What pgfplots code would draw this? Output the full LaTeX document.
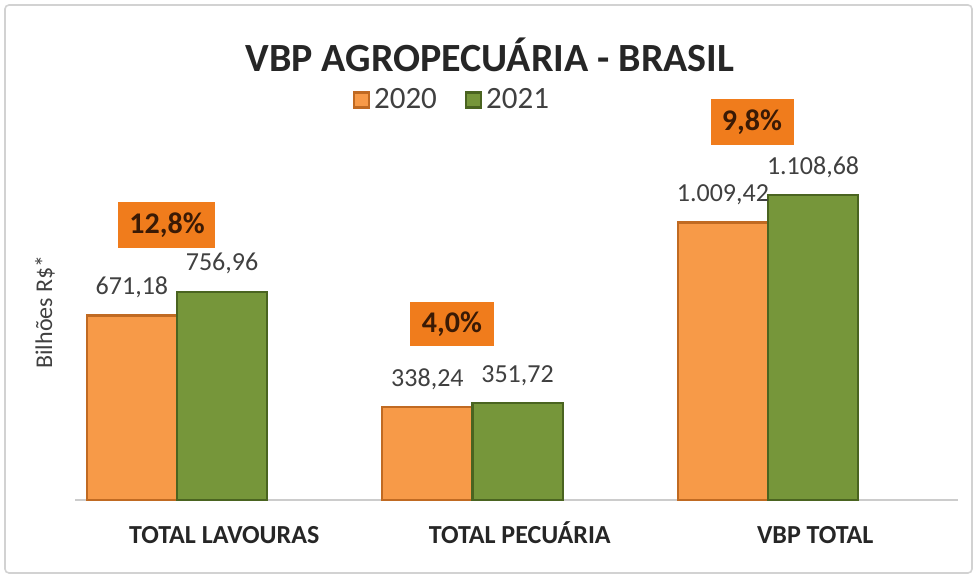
\documentclass[border=0pt]{standalone}
\usepackage{pgfplots}
\pgfplotsset{compat=1.18}
\usepackage{fontspec}
\setmainfont{Carlito}
\definecolor{orbar}{HTML}{F79A48}
\definecolor{orbardk}{HTML}{C06A22}
\definecolor{grbar}{HTML}{76963A}
\definecolor{grbardk}{HTML}{4A6420}
\definecolor{boxor}{HTML}{F07C1C}
\definecolor{boxtxt}{HTML}{3A1A05}
\definecolor{lbl}{HTML}{404040}
\begin{document}
\begin{tikzpicture}
\useasboundingbox (-88.5pt,-41.5pt) rectangle (401.5pt,250pt);
\fill[white] (-88.5pt,-41.5pt) rectangle (401.5pt,250pt);
\draw[gray!35, line width=0.8pt, rounded corners=2pt] (-86pt,-36.5pt) rectangle (397.5pt,247.5pt);
\begin{axis}[
 at={(-50.9775pt,0pt)}, anchor=south west,
 x=147.75pt, y=0.1375pt,
 xmin=-0.345, xmax=2.643, ymin=0, ymax=1454.5,
 clip=false,
 axis x line*=bottom, axis y line=none,
 x axis line style={gray!40, line width=0.8pt, -},
 ytick=\empty,
 xtick={0.16,1.16,2.16},
 xticklabels={TOTAL LAVOURAS, TOTAL PECUÁRIA, VBP TOTAL},
 major tick length=0pt,
 xticklabel style={anchor=base, yshift=-22pt, font=\fontsize{13}{15}\selectfont\bfseries, text=black!85},
 ybar, bar width=0.305,
 nodes near coords,
 every node near coord/.append style={anchor=center, yshift=14pt, font=\fontsize{13}{15}\selectfont, text=lbl},
 legend style={draw=none, fill=none, at={(0.428,1)}, anchor=center, legend columns=2,
   font=\fontsize{15.5}{17}\selectfont, text=black!75,
   /tikz/every even column/.append style={column sep=12pt}},
 legend image code/.code={\fill[#1] (0pt,-3.75pt) rectangle (7.5pt,3.75pt);},
 /pgf/number format/fixed, /pgf/number format/fixed zerofill, /pgf/number format/precision=2,
 /pgf/number format/use comma, /pgf/number format/1000 sep={.}, /pgf/number format/assume math mode=true,
]
\addplot[fill=orbar, draw=orbardk, line width=1.1pt, bar shift=-0.1525] coordinates {(0,671.18) (1,338.24) (2,1009.42)};
\addplot[fill=grbar, draw=grbardk, line width=1.1pt, bar shift=0.1525] coordinates {(0,756.96) (1,351.72) (2,1108.68)};
\legend{2020,2021}
\end{axis}
\node[font=\fontsize{20}{24}\selectfont\bfseries, text=black!85] at (156.5pt,222.5pt) {VBP AGROPECUÁRIA - BRASIL};
\node[rotate=90, font=\fontsize{12}{14}\selectfont, text=lbl] at (-66pt,94pt) {Bilhões R\$*};
\node[fill=boxor, text=boxtxt, font=\fontsize{15}{17}\selectfont\bfseries, minimum width=48.5pt, minimum height=23pt, inner sep=0pt] at (-5pt,137.5pt) {12,8\%};
\node[fill=boxor, text=boxtxt, font=\fontsize{15}{17}\selectfont\bfseries, minimum width=42pt, minimum height=22pt, inner sep=0pt] at (137.5pt,88pt) {4,0\%};
\node[fill=boxor, text=boxtxt, font=\fontsize{15}{17}\selectfont\bfseries, minimum width=41.5pt, minimum height=23pt, inner sep=0pt] at (287.5pt,189pt) {9,8\%};
\end{tikzpicture}
\end{document}
